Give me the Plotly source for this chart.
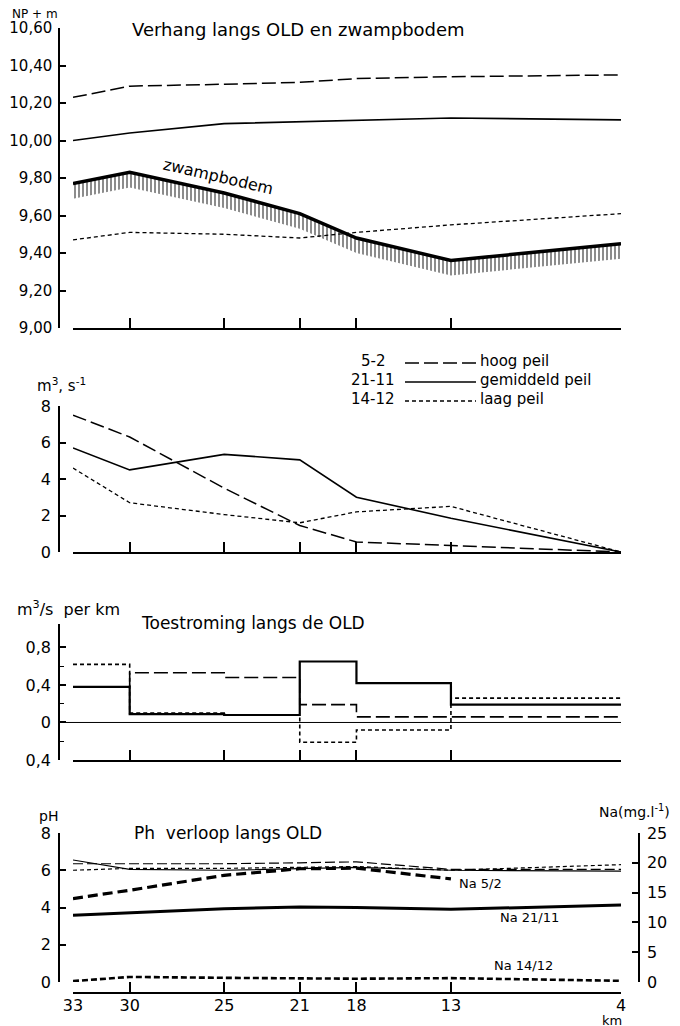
import plotly.graph_objects as go

W, H = 680, 1026
OFF = 8            # page offset of the plot div (body margin)
ML, MR = 51, 49    # left / right axis positions inside the div
PW = W - ML - MR


def px(x):
    """page pixel x -> paper fraction"""
    return (x - OFF - ML) / PW


def py(y):
    """page pixel y -> paper fraction"""
    return 1 - (y - OFF) / H


FONT = "DejaVu Sans"

# ---------------- data ----------------
km = [33, 30, 25, 21, 18, 13, 4]
km_text = ["33", "30", "25", "21", "18", "13", "4"]

# Panel 1: Verhang langs OLD en zwampbodem (NP + m)
lvl_hoog = [10.23, 10.29, 10.30, 10.31, 10.33, 10.34, 10.35]
lvl_gem = [10.00, 10.04, 10.09, 10.10, 10.11, 10.12, 10.11]
lvl_laag = [9.47, 9.51, 9.50, 9.48, 9.51, 9.55, 9.61]
zwampbodem = [9.77, 9.83, 9.72, 9.61, 9.48, 9.36, 9.45]
hatch_depth = 0.08

# Panel 2: afvoer (m3/s)
q_hoog = [7.5, 6.3, 3.5, 1.45, 0.55, 0.35, 0.0]
q_gem = [5.7, 4.5, 5.35, 5.05, 3.0, 1.85, 0.0]
q_laag = [4.6, 2.7, 2.05, 1.6, 2.2, 2.5, 0.0]

# Panel 3: Toestroming langs de OLD (m3/s per km), per trajectvak
in_hoog = [0.38, 0.53, 0.48, 0.19, 0.06, 0.06]
in_gem = [0.38, 0.09, 0.08, 0.65, 0.42, 0.19]
in_laag = [0.62, 0.10, 0.08, -0.21, -0.08, 0.26]

# Panel 4: pH en Na verloop langs OLD
ph_hoog = [6.35, 6.35, 6.35, 6.4, 6.45, 6.05, 6.05]
ph_gem = [6.55, 6.05, 6.0, 6.1, 6.15, 6.0, 5.95]
ph_laag = [6.0, 6.1, 6.1, 6.15, 6.2, 6.0, 6.3]
na_hoog_km = [33, 30, 25, 21, 18, 13]
na_hoog = [14.0, 15.4, 17.9, 19.0, 19.1, 17.3]
na_gem = [11.2, 11.6, 12.3, 12.6, 12.5, 12.2, 12.9]
na_laag = [0.15, 0.85, 0.7, 0.6, 0.55, 0.65, 0.2]

lvl_ticks = [9.0, 9.2, 9.4, 9.6, 9.8, 10.0, 10.2, 10.4, 10.6]
lvl_ticktext = ["9,00", "9,20", "9,40", "9,60", "9,80", "10,00", "10,20", "10,40", "10,60"]
q_ticks = [0, 2, 4, 6, 8]
in_ticks = [-0.4, 0, 0.4, 0.8]
in_ticktext = ["0,4", "0", "0,4", "0,8"]
in_minor = [-0.2, 0.2, 0.6]
ph_ticks = [0, 2, 4, 6, 8]
na_ticks = [0, 5, 10, 15, 20, 25]

# ---------------- styles ----------------
HOOG = dict(color="black", width=1.5, dash="14px,5px")
GEM = dict(color="black", width=1.6)
LAAG = dict(color="black", width=1.3, dash="4px,3px")

fig = go.Figure()


def line(x, y, ln, xa, ya, shape="linear"):
    fig.add_trace(go.Scatter(x=x, y=y, mode="lines", line=dict(ln, shape=shape),
                             xaxis=xa, yaxis=ya, showlegend=False, hoverinfo="skip"))


# Panel 1
line(km, lvl_hoog, HOOG, "x", "y")
line(km, lvl_gem, GEM, "x", "y")
line(km, lvl_laag, LAAG, "x", "y")
fig.add_trace(go.Scatter(x=km, y=[v - hatch_depth for v in zwampbodem], mode="lines",
                         line=dict(width=0, color="rgba(0,0,0,0)"), xaxis="x", yaxis="y",
                         showlegend=False, hoverinfo="skip"))
fig.add_trace(go.Scatter(x=km, y=zwampbodem, mode="lines", line=dict(color="black", width=3.5),
                         fill="tonexty", fillcolor="rgba(0,0,0,0)",
                         fillpattern=dict(shape="|", size=4, solidity=0.45, fgcolor="black",
                                          bgcolor="rgba(0,0,0,0)"),
                         xaxis="x", yaxis="y", showlegend=False, hoverinfo="skip"))

# Panel 2
line(km, q_hoog, HOOG, "x2", "y2")
line(km, q_gem, GEM, "x2", "y2")
line(km, q_laag, LAAG, "x2", "y2")

# Panel 3 (stepped)
line(km, in_hoog + in_hoog[-1:], dict(HOOG, width=1.6), "x3", "y3", "hv")
line(km, in_gem + in_gem[-1:], dict(GEM, width=2.2), "x3", "y3", "hv")
line(km, in_laag + in_laag[-1:], dict(LAAG, width=1.6), "x3", "y3", "hv")

# Panel 4
line(km, ph_hoog, dict(HOOG, width=1.2, dash="10px,4px"), "x4", "y4")
line(km, ph_gem, dict(GEM, width=1.2), "x4", "y4")
line(km, ph_laag, dict(LAAG, width=1.2), "x4", "y4")
line(na_hoog_km, na_hoog, dict(color="black", width=3.2, dash="10px,5px"), "x4", "y5")
line(km, na_gem, dict(color="black", width=3.0), "x4", "y5")
line(km, na_laag, dict(color="black", width=2.6, dash="6px,3px"), "x4", "y5")

# ---------------- axes ----------------
TICKFONT = dict(family=FONT, size=16, color="black")
xcommon = dict(range=[33, 4], domain=[px(73), px(621)], tickvals=km, ticktext=km_text,
               ticks="inside", ticklen=10, tickwidth=1.5, tickcolor="black",
               showline=True, linewidth=1.6, linecolor="black", showgrid=False,
               zeroline=False, tickfont=TICKFONT, fixedrange=True, automargin=False)
ycommon = dict(anchor="free", position=0, showline=True, linewidth=1.5, linecolor="black",
               ticks="inside", ticklen=6, tickwidth=1.5, tickcolor="black", showgrid=False,
               zeroline=False, tickfont=TICKFONT, ticklabelstandoff=4, fixedrange=True,
               automargin=False)

fig.update_layout(
    xaxis=dict(xcommon, anchor="y", showticklabels=False),
    yaxis=dict(ycommon, domain=[py(328), py(28)], range=[9.0, 10.6],
               tickvals=lvl_ticks, ticktext=lvl_ticktext,
               tickfont=dict(TICKFONT, size=15), ticklabelstandoff=3),
    xaxis2=dict(xcommon, anchor="y2", showticklabels=False),
    yaxis2=dict(ycommon, domain=[py(552), py(406)], range=[0, 8], tickvals=q_ticks),
    xaxis3=dict(xcommon, anchor="y3", showticklabels=False),
    yaxis3=dict(ycommon, domain=[py(760), py(624)], range=[-0.4, 1.05],
                tickvals=in_ticks, ticktext=in_ticktext,
                minor=dict(tickvals=in_minor, ticks="inside", ticklen=4, tickcolor="black",
                           tickwidth=1.2, showgrid=False)),
    xaxis4=dict(xcommon, anchor="free", position=py(993), showticklabels=True,
                ticklabelstandoff=-2),
    yaxis4=dict(ycommon, domain=[py(982), py(833)], range=[0, 8], tickvals=ph_ticks),
    yaxis5=dict(ycommon, overlaying="y4", side="right", anchor="free", position=1,
                range=[0, 25], tickvals=na_ticks),
)

# zero line in panel 3
fig.add_shape(type="line", xref="paper", yref="y3", x0=0, x1=px(621), y0=0, y1=0,
              line=dict(color="black", width=1))

# legend samples (panel 2)
leg_rows = [("5-2", "hoog peil", HOOG, 361), ("21-11", "gemiddeld peil", GEM, 380),
            ("14-12", "laag peil", LAAG, 399)]
ann = []
for code, name, ln, yy in leg_rows:
    fig.add_shape(type="line", xref="paper", yref="paper", x0=px(405), x1=px(476),
                  y0=py(yy + 2), y1=py(yy + 2), line=ln)
    ann.append(dict(text=code, x=px(373), y=py(yy), xanchor="center"))
    ann.append(dict(text=name, x=px(478), y=py(yy), xanchor="left"))

ann += [
    dict(text="NP + m", x=px(10), y=py(14), xanchor="left", size=12),
    dict(text="Verhang langs OLD en zwampbodem", x=px(130), y=py(30), xanchor="left", size=18),
    dict(text="m<sup>3</sup>, s<sup>-1</sup>", x=px(35), y=py(385), xanchor="left"),
    dict(text="m<sup>3</sup>/s  per km", x=px(15), y=py(608), xanchor="left", size=16),
    dict(text="Toestroming langs de OLD", x=px(139), y=py(623), xanchor="left", size=17),
    dict(text="pH", x=px(37), y=py(816), xanchor="left", size=14),
    dict(text="Ph  verloop langs OLD", x=px(132), y=py(833), xanchor="left", size=17),
    dict(text="Na(mg.l<sup>-1</sup>)", x=px(672), y=py(811), xanchor="right", size=14),
    dict(text="Na 5/2", x=px(457), y=py(883), xanchor="left", size=13),
    dict(text="Na 21/11", x=px(498), y=py(917), xanchor="left", size=13),
    dict(text="Na 14/12", x=px(492), y=py(965), xanchor="left", size=13),
    dict(text="km", x=px(612), y=py(1020), xanchor="center", size=13),
]
annotations = []
for a in ann:
    size = a.pop("size", 15)
    annotations.append(dict(a, xref="paper", yref="paper", yanchor="middle", showarrow=False,
                            font=dict(family=FONT, size=size, color="black")))
annotations.append(dict(text="zwampbodem", x=25.3, y=9.81, xref="x", yref="y", textangle=13,
                        showarrow=False, font=dict(family=FONT, size=16, color="black")))

fig.update_layout(
    width=W, height=H, margin=dict(l=ML, r=MR, t=0, b=0, pad=0, autoexpand=False),
    paper_bgcolor="white", plot_bgcolor="white", showlegend=False,
    annotations=annotations, font=dict(family=FONT, color="black"),
)

fig.write_html("out.html")
